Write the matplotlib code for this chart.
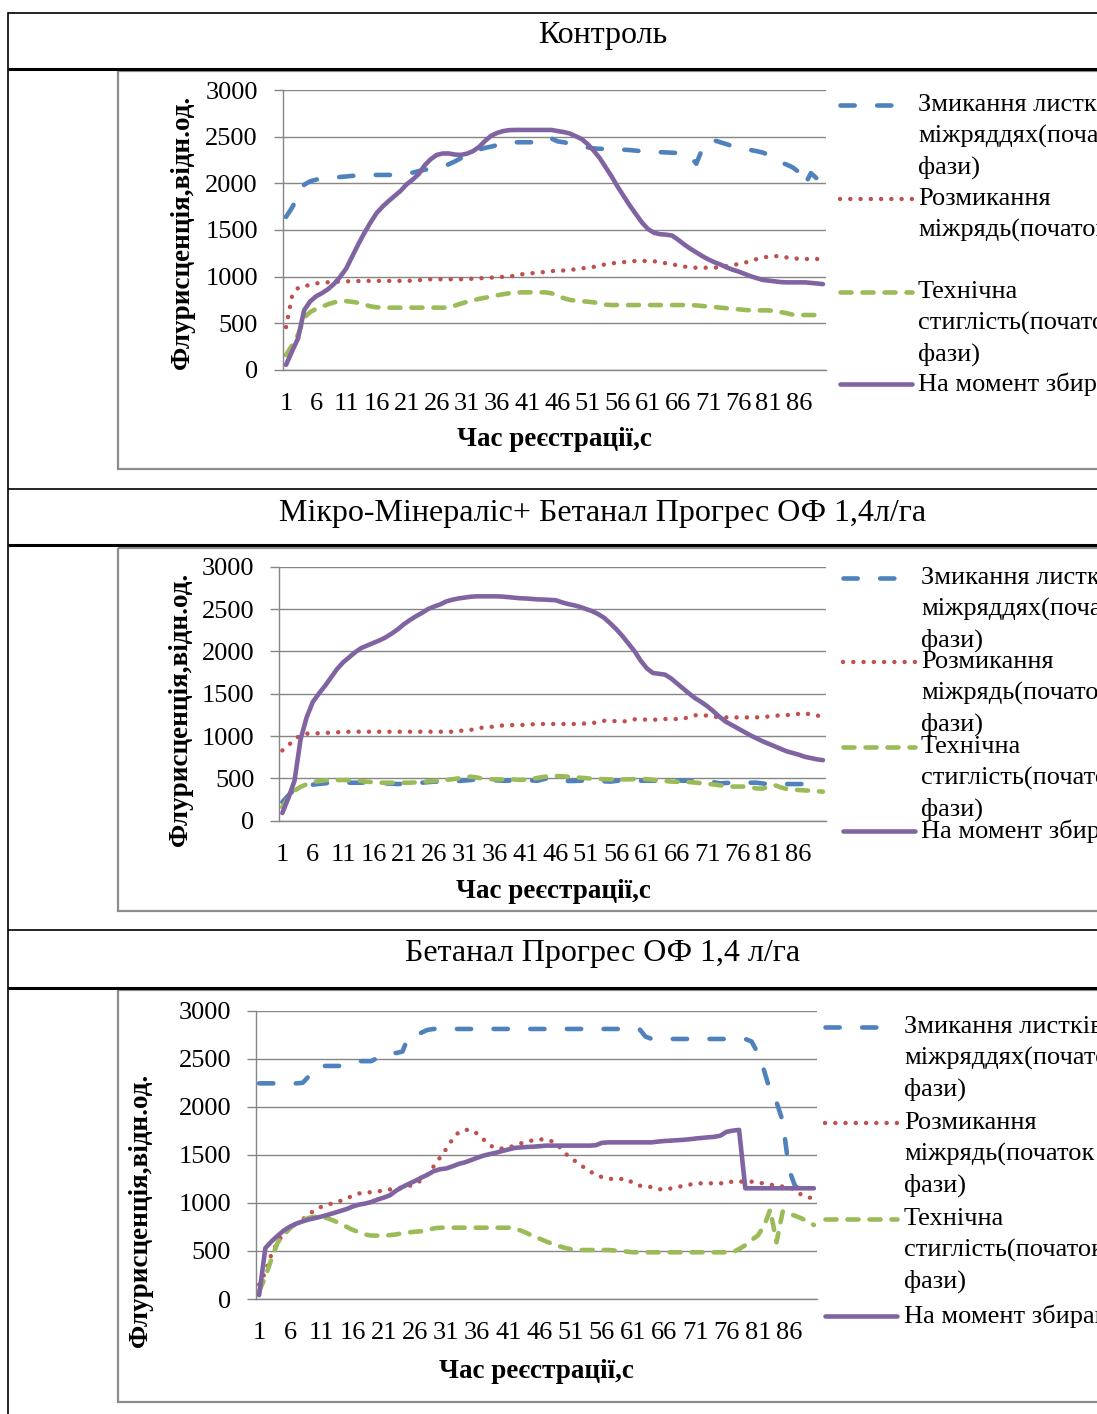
import matplotlib
matplotlib.use('Agg')
import matplotlib.pyplot as plt
from matplotlib.patches import Rectangle

plt.rcParams['font.family'] = ['Liberation Serif', 'DejaVu Serif']

# час реєстрації, с (категорії осі X)
time_s = list(range(1, 91))
tick_labels = [str(t) for t in range(1, 90, 5)]

titles = ['Контроль',
          'Мікро-Мінераліс+ Бетанал Прогрес ОФ 1,4л/га',
          'Бетанал Прогрес ОФ 1,4 л/га']

# ---- Контроль ----
ctrl_blue = [1640, 1740, 1860, 1985, 2022, 2040, 2050, 2058, 2063, 2068,
             2074, 2080, 2085, 2088, 2090, 2090, 2090, 2090, 2090, 2098,
             2106, 2115, 2132, 2146, 2158, 2168, 2178, 2205, 2235, 2270,
             2305, 2340, 2362, 2380, 2393, 2410, 2428, 2440, 2440, 2440,
             2440, 2440, 2470, 2495, 2480, 2450, 2440, 2428, 2415, 2400,
             2385, 2374, 2370, 2370, 2370, 2365, 2360, 2357, 2350, 2344,
             2340, 2337, 2334, 2331, 2328, 2325, 2321, 2290, 2210, 2370,
             2455, 2460, 2440, 2420, 2398, 2385, 2370, 2357, 2345, 2330,
             2305, 2255, 2225, 2200, 2170, 2120, 1985, 2110, 2050, 1920]
ctrl_red = [460, 790, 880, 898, 912, 928, 935, 940, 945, 948,
            950, 952, 953, 955, 955, 955, 955, 955, 955, 955,
            955, 958, 962, 968, 972, 972, 972, 972, 972, 972,
            975, 978, 982, 986, 990, 994, 998, 1002, 1012, 1025,
            1032, 1038, 1043, 1052, 1060, 1062, 1066, 1071, 1080, 1089,
            1096, 1105, 1120, 1133, 1143, 1149, 1156, 1165, 1168, 1168,
            1168, 1165, 1155, 1143, 1132, 1120, 1108, 1098, 1096, 1096,
            1096, 1096, 1104, 1114, 1124, 1136, 1148, 1170, 1188, 1203,
            1216, 1221, 1216, 1206, 1197, 1192, 1189, 1189, 1189, 1189]
ctrl_green = [160, 265, 380, 560, 620, 655, 680, 705, 725, 738,
              738, 730, 720, 702, 682, 672, 668, 668, 668, 668,
              668, 668, 668, 668, 668, 668, 668, 668, 690, 712,
              730, 747, 762, 775, 786, 800, 812, 822, 828, 832,
              832, 832, 832, 832, 822, 798, 770, 752, 742, 737,
              732, 725, 714, 700, 696, 696, 696, 696, 696, 696,
              696, 696, 696, 696, 696, 696, 696, 696, 692, 686,
              680, 674, 668, 662, 656, 650, 644, 639, 639, 639,
              639, 630, 620, 608, 593, 589, 589, 589, 589, 589]
ctrl_purple = [55, 200, 340, 640, 735, 790, 825, 868, 925, 1000,
               1090, 1220, 1350, 1470, 1580, 1680, 1750, 1810, 1865, 1920,
               1990, 2040, 2100, 2195, 2260, 2305, 2320, 2320, 2308, 2305,
               2318, 2345, 2390, 2455, 2510, 2540, 2560, 2570, 2572, 2572,
               2572, 2572, 2572, 2572, 2572, 2560, 2550, 2535, 2505, 2475,
               2420, 2350, 2270, 2170, 2070, 1960, 1860, 1760, 1670, 1580,
               1510, 1470, 1455, 1450, 1440, 1395, 1345, 1300, 1260, 1220,
               1185, 1155, 1130, 1100, 1075, 1055, 1030, 1005, 985, 965,
               958, 950, 942, 939, 939, 939, 939, 933, 927, 920]

# ---- Мікро-Мінераліс + Бетанал ----
mm_blue = [220, 300, 370, 400, 412, 425, 435, 441, 450, 460,
           455, 449, 449, 449, 455, 460, 450, 441, 437, 433,
           436, 441, 445, 449, 455, 461, 461, 461, 461, 468,
           475, 480, 490, 498, 485, 478, 473, 472, 476, 480,
           478, 475, 472, 490, 510, 490, 470, 469, 469, 472,
           476, 480, 475, 465, 462, 470, 480, 478, 474, 472,
           472, 472, 472, 472, 480, 476, 472, 472, 472, 472,
           472, 455, 441, 445, 449, 449, 449, 449, 449, 440,
           433, 433, 433, 433, 433, 433, 433, 433, 433, 433]
mm_red = [830, 890, 960, 1010, 1028, 1030, 1033, 1037, 1040, 1044,
          1048, 1051, 1051, 1051, 1051, 1051, 1051, 1051, 1051, 1051,
          1051, 1051, 1051, 1051, 1051, 1051, 1051, 1051, 1051, 1060,
          1066, 1072, 1090, 1100, 1104, 1115, 1123, 1128, 1130, 1130,
          1132, 1138, 1142, 1142, 1142, 1142, 1142, 1142, 1142, 1142,
          1150, 1150, 1170, 1180, 1180, 1175, 1168, 1185, 1197, 1197,
          1193, 1190, 1198, 1201, 1201, 1201, 1201, 1230, 1245, 1248,
          1240, 1230, 1220, 1220, 1220, 1220, 1220, 1220, 1220, 1226,
          1230, 1238, 1245, 1248, 1250, 1262, 1275, 1250, 1240, 1240]
mm_green = [160, 270, 355, 400, 430, 455, 468, 478, 480, 480,
            480, 480, 480, 468, 460, 455, 449, 449, 449, 449,
            449, 449, 452, 458, 465, 470, 476, 482, 490, 500,
            510, 520, 510, 498, 492, 488, 488, 488, 488, 482,
            485, 495, 505, 518, 525, 528, 525, 520, 514, 508,
            502, 497, 494, 490, 488, 488, 488, 488, 492, 496,
            490, 484, 478, 470, 462, 460, 458, 456, 450, 443,
            436, 428, 418, 412, 403, 403, 403, 395, 382, 378,
            400, 421, 395, 376, 368, 362, 358, 354, 348, 343]
mm_purple = [90, 270, 470, 960, 1220, 1400, 1500, 1590, 1690, 1790,
             1870, 1930, 1990, 2040, 2070, 2100, 2130, 2165, 2210, 2260,
             2320, 2370, 2415, 2455, 2500, 2530, 2555, 2590, 2610, 2625,
             2635, 2645, 2650, 2650, 2650, 2650, 2648, 2642, 2635, 2628,
             2625, 2620, 2614, 2612, 2608, 2604, 2580, 2560, 2545, 2525,
             2500, 2475, 2440, 2395, 2330, 2260, 2180, 2090, 2000, 1890,
             1800, 1745, 1735, 1725, 1680, 1620, 1560, 1500, 1445, 1400,
             1350, 1290, 1225, 1170, 1130, 1090, 1050, 1010, 975, 940,
             910, 880, 850, 820, 800, 780, 755, 740, 725, 715]

# ---- Бетанал ----
bt_blue = [2244, 2244, 2244, 2244, 2244, 2244, 2244, 2250, 2320, 2410,
           2425, 2425, 2425, 2425, 2440, 2460, 2475, 2475, 2475, 2510,
           2550, 2560, 2560, 2575, 2740, 2755, 2770, 2800, 2810, 2810,
           2810, 2810, 2810, 2810, 2810, 2810, 2810, 2810, 2810, 2810,
           2810, 2810, 2810, 2810, 2810, 2810, 2810, 2810, 2810, 2810,
           2810, 2810, 2810, 2810, 2810, 2810, 2810, 2810, 2810, 2810,
           2810, 2810, 2730, 2706, 2706, 2706, 2706, 2706, 2706, 2706,
           2706, 2706, 2706, 2706, 2706, 2706, 2706, 2706, 2706, 2680,
           2560, 2380, 2160, 2050, 1850, 1350, 1170, 1140, 1120, 1100]
bt_red = [150, 280, 470, 600, 680, 740, 790, 830, 880, 930,
          960, 982, 1000, 1020, 1045, 1075, 1098, 1105, 1112, 1120,
          1128, 1140, 1150, 1160, 1175, 1195, 1235, 1295, 1380, 1470,
          1560, 1660, 1735, 1760, 1760, 1720, 1660, 1600, 1568, 1566,
          1575, 1598, 1620, 1638, 1652, 1660, 1662, 1640, 1595, 1520,
          1470, 1420, 1375, 1330, 1295, 1268, 1252, 1249, 1249, 1249,
          1205, 1180, 1170, 1165, 1145, 1136, 1150, 1165, 1176, 1190,
          1200, 1204, 1204, 1204, 1204, 1204, 1225, 1222, 1221, 1221,
          1212, 1202, 1190, 1180, 1170, 1160, 1140, 1082, 1060, 1045]
bt_green = [80, 230, 420, 590, 670, 740, 787, 820, 845, 856,
            852, 840, 815, 785, 752, 720, 695, 672, 660, 659,
            659, 665, 672, 686, 693, 700, 705, 715, 735, 742,
            742, 742, 742, 742, 742, 742, 742, 742, 742, 742,
            742, 732, 712, 685, 650, 628, 600, 575, 552, 533,
            518, 510, 510, 510, 510, 510, 510, 505, 500, 493,
            486, 486, 486, 486, 486, 486, 486, 486, 486, 486,
            486, 486, 486, 486, 486, 486, 486, 520, 560, 614,
            660, 760, 930, 590, 910, 890, 865, 840, 805, 770]
bt_purple = [40, 530, 600, 660, 715, 755, 785, 808, 828, 842,
             858, 876, 895, 915, 935, 962, 982, 993, 1010, 1035,
             1055, 1080, 1128, 1165, 1198, 1228, 1262, 1292, 1330, 1350,
             1358, 1380, 1405, 1422, 1445, 1470, 1492, 1508, 1522, 1540,
             1556, 1572, 1578, 1582, 1585, 1590, 1596, 1596, 1596, 1596,
             1596, 1596, 1596, 1596, 1600, 1625, 1630, 1630, 1630, 1630,
             1630, 1630, 1630, 1630, 1638, 1644, 1648, 1652, 1656, 1662,
             1670, 1676, 1682, 1687, 1700, 1740, 1752, 1760, 1152, 1152,
             1152, 1152, 1152, 1152, 1152, 1152, 1152, 1152, 1152, 1152]

legend_lines = [['Змикання листків у', 'міжряддях(початок', 'фази)'],
                ['Розмикання', 'міжрядь(початок', 'фази)'],
                ['Технічна', 'стиглість(початок', 'фази)'],
                ['На момент збирання']]

styles = [dict(color='#4F81BD', lw=3.3, dashes=(3.1, 4.9), dash_capstyle='round'),
          dict(color='#C0504D', lw=3.2, dashes=(0.01, 2.3), dash_capstyle='round'),
          dict(color='#9BBB59', lw=3.3, dashes=(2.4, 2.4), dash_capstyle='round'),
          dict(color='#8064A2', lw=3.3, solid_capstyle='round', solid_joinstyle='round')]

W, H = 1097, 1414
GRID = '#868686'
fig = plt.figure(figsize=(W / 100, H / 100), dpi=100)

bg = fig.add_axes([0, 0, 1, 1])
bg.set_xlim(0, W)
bg.set_ylim(H, 0)
bg.axis('off')

# рамки таблиці
for y, lw in [(13, 1.2), (69, 2.2), (489, 1.2), (545, 2.2), (930, 1.2), (988, 2.2)]:
    bg.plot([8, W], [y, y], color='black', lw=lw, solid_capstyle='butt')
bg.plot([8, 8], [13, H], color='black', lw=1.2)

panels = [
    dict(series=[ctrl_blue, ctrl_red, ctrl_green, ctrl_purple], title_y=36,
         box=(117.5, 71, 469), plot=(283, 90, 826, 370),
         ylab=(182, 232), xlab=(554, 439),
         leg=(840, 912, 918, [105, 199, 292, 384]), red_lines=2),
    dict(series=[mm_blue, mm_red, mm_green, mm_purple], title_y=513,
         box=(117.5, 548, 911), plot=(279.3, 566.7, 826, 820.7),
         ylab=(180, 709), xlab=(553, 891),
         leg=(843, 915, 921, [578, 662, 747, 831]), red_lines=3),
    dict(series=[bt_blue, bt_red, bt_green, bt_purple], title_y=953,
         box=(117.5, 990, 1402), plot=(256, 1010.7, 817, 1299),
         ylab=(140, 1210), xlab=(536, 1371),
         leg=(825, 897, 904, [1027, 1123, 1219, 1316]), red_lines=3),
]

for title, p in zip(titles, panels):
    bg.text(603, p['title_y'], title, ha='center', va='center', fontsize=23)
    bx, by0, by1 = p['box']
    bg.add_patch(Rectangle((bx, by0), W + 10 - bx, by1 - by0, fill=False,
                           edgecolor='#8c8c8c', lw=1.6))

    l, t, r, b = p['plot']
    ax = fig.add_axes([l / W, 1 - b / H, (r - l) / W, (b - t) / H])
    ax.patch.set_visible(False)
    for vals, st in zip(p['series'], styles):
        assert len(vals) == len(time_s)
        ax.plot(time_s, vals, **st)
    ax.set_xlim(0.5, 90.5)
    ax.set_ylim(0, 3000)
    ax.set_yticks(range(0, 3001, 500))
    ax.set_xticks(time_s[::5])
    ax.set_xticklabels(tick_labels)
    ax.set_axisbelow(True)
    ax.yaxis.grid(True, color=GRID, lw=1.0)
    for s in ['top', 'right']:
        ax.spines[s].set_visible(False)
    for s in ['left', 'bottom']:
        ax.spines[s].set_color(GRID)
        ax.spines[s].set_linewidth(1.0)
    ax.tick_params(axis='y', length=6.5, width=1.0, color=GRID, pad=11.5, labelsize=19)
    ax.tick_params(axis='x', length=0, pad=16.5, labelsize=19)

    bg.text(p['ylab'][0], p['ylab'][1], 'Флурисценція,відн.од.', rotation=90,
            ha='center', va='center', fontsize=19.5, fontweight='bold')
    bg.text(p['xlab'][0], p['xlab'][1], 'Час реєстрації,с',
            ha='center', va='center', fontsize=19.5, fontweight='bold')

    x0, x1, tx, ys = p['leg']
    for i, (y, st) in enumerate(zip(ys, styles)):
        bg.plot([x0, x1], [y, y], **st)
        lines = legend_lines[i]
        if i == 1:
            lines = lines[:p['red_lines']]
        for k, txt in enumerate(lines):
            bg.text(tx, y + 31 * k, txt, ha='left', va='center', fontsize=19)

fig.savefig('out.png', dpi=100)
